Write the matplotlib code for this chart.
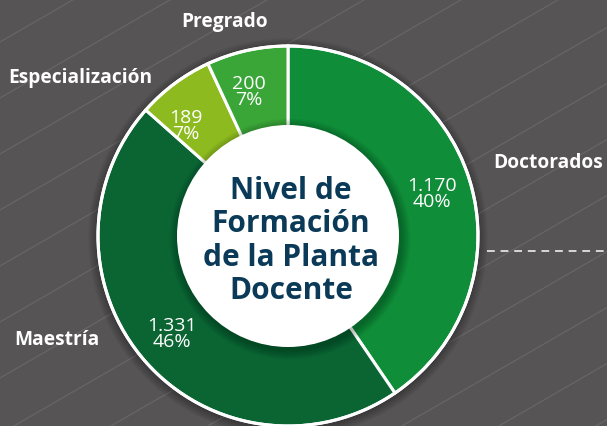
import numpy as np
import matplotlib.pyplot as plt
from matplotlib.patches import Circle

## data

categorias = ['Doctorados', 'Maestría', 'Especialización', 'Pregrado']
docentes   = [1170, 1331, 189, 200]
porcentaje = ['40%', '46%', '7%', '7%']
colores    = ['#0f8d38', '#0a6533', '#8dbb1f', '#3aa637']
titulo     = 'Nivel de\nFormación\nde la Planta\nDocente'

## figure (coordinates in pixels, y up)

W, H = 607, 427
fig = plt.figure(figsize=(W / 100, H / 100), dpi=100)
ax = fig.add_axes([0, 0, 1, 1])
ax.set_xlim(0, W)
ax.set_ylim(0, H)
ax.set_aspect('equal')
ax.axis('off')
fig.patch.set_facecolor('#565455')

# diagonal stripes of the background
ang = np.deg2rad(30)
xs = np.array([0, W])
for c in np.arange(-400, H + 60, 56):
    ax.plot(xs, c + xs * np.tan(ang), color='#676566', lw=0.9, zorder=0)

# dashed line on the right
ax.plot([487, W], [H - 252, H - 252], color='#d8d8d8', lw=1.4,
        ls=(0, (4, 3)), zorder=1)

cx, cy = 288, H - 237
r_out, r_in = 190, 111

# soft shadow around the ring
for k in range(6):
    ax.add_patch(Circle((cx, cy - 2), r_out + 2 + k * 1.5, color='black',
                        alpha=0.05, lw=0, zorder=1))

wedges, _ = ax.pie(docentes, colors=colores, startangle=90, counterclock=False,
                   center=(cx, cy), radius=r_out,
                   wedgeprops=dict(edgecolor='white', linewidth=2.2))
for w in wedges:
    w.set_zorder(2)
ax.add_patch(Circle((cx, cy), r_out, fill=False, ec='white', lw=2.2, zorder=3))
ax.set_xlim(0, W)
ax.set_ylim(0, H)

# shadow of the centre disc
for k in range(8):
    ax.add_patch(Circle((cx + 2, cy - 3), r_in + 1 + k * 1.2, color='black',
                        alpha=0.035, lw=0, zorder=4))
ax.add_patch(Circle((cx, cy), r_in, color='white', lw=0, zorder=5))

fam = ['Open Sans', 'DejaVu Sans']

ax.text(cx + 3, cy - 4, titulo, ha='center', va='center', color='#0b3a58',
        fontsize=21.5, fontweight='bold', family=fam, linespacing=1.14, zorder=6)

# value labels inside the ring
pos_val = [(432, 194), (172, 334), (186, 126), (249, 92)]
for (px, py), n, p in zip(pos_val, docentes, porcentaje):
    txt = '{:,}'.format(n).replace(',', '.') + '\n' + p
    ax.text(px, H - py, txt, ha='center', va='center', color='white',
            fontsize=14, family=fam, linespacing=0.88, zorder=6)

# category labels
pos_cat = [(548, 163), (57, 340), (80, 78), (225, 22)]
for (px, py), nombre in zip(pos_cat, categorias):
    ax.text(px, H - py, nombre, ha='center', va='center', color='white',
            fontsize=13.8, fontweight='bold', family=fam, zorder=6)

fig.savefig('out.png', dpi=100, facecolor=fig.get_facecolor())
